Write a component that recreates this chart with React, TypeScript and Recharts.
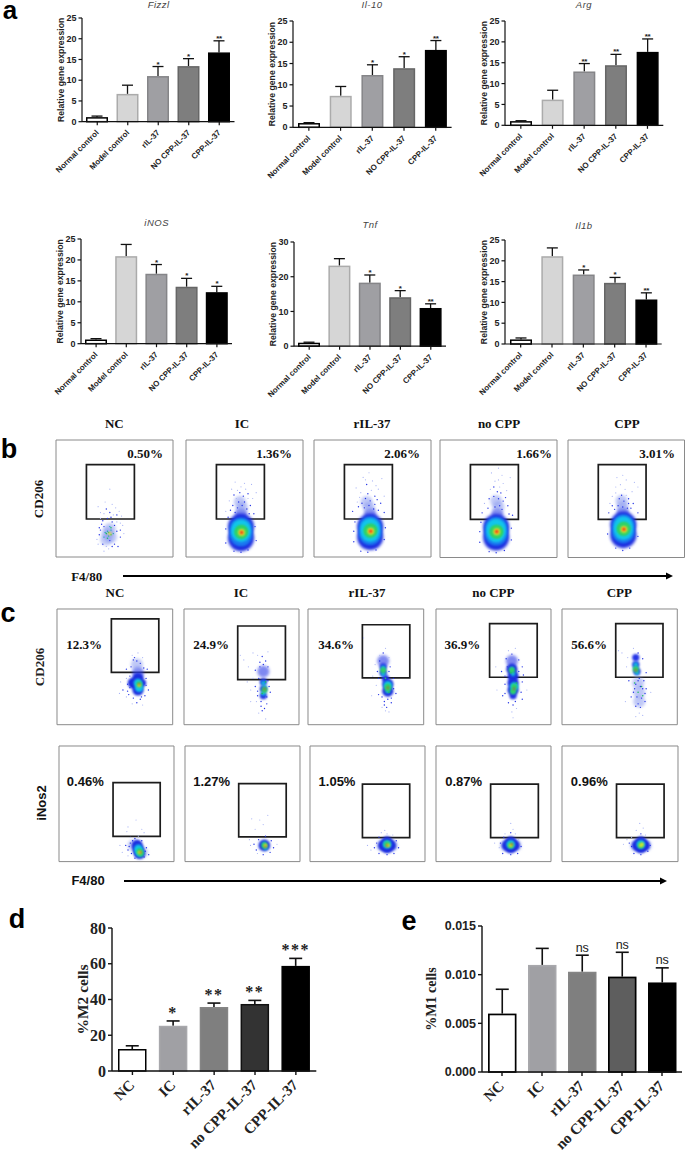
import React from 'react'
import { BarChart, Bar, XAxis, YAxis, ScatterChart, Scatter, ReferenceArea } from 'recharts'

const SANS = '"Liberation Sans", Arial, sans-serif'
const SERIF = '"Liberation Serif", "Times New Roman", serif'

// panel a
const geneCategories = ['Normal control', 'Model control', 'rIL-37', 'NO CPP-IL-37', 'CPP-IL-37']
const fizzlValues = [1.1, 6.7, 11, 13.4, 16.7]
const fizzlErrors = [0.25, 2.1, 2.3, 1.8, 2.8]
const fizzlStars = ['', '', '*', '*', '**']
const il10Values = [1, 7.4, 12.3, 13.9, 18.2]
const il10Errors = [0.1, 2.2, 2.4, 2.7, 2.2]
const il10Stars = ['', '', '*', '*', '**']
const argValues = [1, 6.15, 12.9, 14.4, 17.6]
const argErrors = [0.1, 2.25, 1.9, 2.6, 3.1]
const argStars = ['', '', '**', '**', '**']
const inosValues = [1, 20.9, 16.7, 13.6, 12.3]
const inosErrors = [0.2, 2.8, 2.2, 2, 1.4]
const inosStars = ['', '', '*', '*', '*']
const tnfValues = [1, 23.2, 18.3, 14.1, 11]
const tnfErrors = [0.15, 2, 2.2, 1.9, 1.2]
const tnfStars = ['', '', '*', '*', '**']
const il1bValues = [1.1, 21.1, 16.7, 14.7, 10.7]
const il1bErrors = [0.35, 2, 1.1, 1.3, 1.6]
const il1bStars = ['', '', '*', '*', '**']
const ticks25 = [0, 5, 10, 15, 20, 25]
const ticks30 = [0, 10, 20, 30]

// panels d, e
const cellCategories = ['NC', 'IC', 'rIL-37', 'no CPP-IL-37', 'CPP-IL-37']
const m2Values = [12.3, 25.3, 35.8, 37.5, 58.8]
const m2Errors = [1.8, 2.7, 2.2, 2, 4.2]
const m2Stars = ['', '*', '**', '**', '***']
const m2Ticks = [0, 20, 40, 60, 80]
const m1Values = [0.006, 0.011, 0.0103, 0.0098, 0.0092]
const m1Errors = [0.0025, 0.0017, 0.0017, 0.0025, 0.0015]
const m1Stars = ['', '', 'ns', 'ns', 'ns']
const m1Ticks = [0, 0.005, 0.01, 0.015]

const geneFills = ['#ffffff', '#d6d6d6', '#9f9fa3', '#7e7e7e', '#000000']
const geneStrokes = ['#000000', '#ababab', '#858588', '#666666', '#000000']
const m2Fills = ['#ffffff', '#a0a0a4', '#7f7f7f', '#333333', '#000000']
const m2Strokes = ['#000000', '#a8a8ac', '#858585', '#111111', '#000000']
const m1Fills = ['#ffffff', '#a0a0a4', '#7f7f7f', '#5e5e5e', '#000000']
const m1Strokes = ['#000000', '#a8a8ac', '#858585', '#000000', '#000000']

// flow cytometry events, [F4/80, marker, density level]
type Ev = [number, number, number]
const bNC: Ev[] = [[44, 20, 3], [46, 24, 3], [43, 15, 3], [47, 17, 3], [41, 37, 0], [48, 45, 0], [52, 30, 0], [39, 28, 1], [37, 19, 1], [52, 22, 1], [55, 17, 1], [40, 11, 1], [50, 11, 1], [45, 7, 0], [44, 33, 1], [49, 36, 0], [54, 39, 0], [42, 47, 0], [46, 58, 0], [36, 43, 0], [57, 27, 0], [38, 33, 0], [50, 27, 1], [41, 26, 1], [48, 30, 1], [46, 14, 1], [42, 21, 2], [45, 18, 2], [47, 23, 2], [44, 22, 2], [49, 20, 2], [46, 26, 2], [41, 17, 2], [43, 20, 9], [47, 19, 9], [44, 16, 9], [47, 25, 9], [45, 21, 9], [46, 20, 7], [52, 36, 1], [37, 25, 1], [55, 29, 0], [58, 20, 0], [35, 15, 0], [48, 9, 1], [43, 9, 0], [40, 31, 1], [46, 38, 1], [51, 42, 0], [38, 38, 0], [56, 35, 0], [43, 41, 1], [47, 34, 1], [55, 23, 1], [38, 23, 1], [36, 11, 0], [53, 9, 1], [41, 5, 0]]
const bIC: Ev[] = [[47, 37, 15], [48, 42, 3], [46, 47, 3], [47, 26, 10], [47, 16, 10], [47, 19, 18], [47, 24, 18], [47, 21, 11], [47, 24, 11], [47, 21, 12], [47.5, 22, 12], [47.5, 21, 13], [47.5, 21, 14], [48, 44, 1], [44, 42, 1], [52, 41, 1], [50, 47, 1], [45, 47, 1], [49, 52, 1], [43, 50, 0], [53, 50, 0], [40, 44, 1], [55, 44, 1], [39, 58, 0], [47, 60, 0], [51, 58, 0], [56, 62, 0], [42, 64, 0], [60, 55, 0], [34, 39, 0], [58, 37, 1], [36, 34, 1], [47, 4, 1], [41, 5, 1], [53, 6, 1], [34, 12, 1], [60, 14, 1], [42, 38, 1], [54, 37, 1], [38, 40, 1], [46, 55, 1], [53, 54, 1], [41, 53, 1], [44, 57, 0], [50, 63, 0], [37, 48, 0], [57, 50, 0], [59, 26, 1], [34, 24, 1]]
const bRil: Ev[] = [[48, 37, 15], [47, 42, 3], [45, 47, 3], [48, 26, 10], [48, 17, 10], [48, 20, 18], [48, 25, 18], [48, 21, 11], [48, 25, 11], [48, 22, 12], [48.5, 23, 12], [48.5, 22, 13], [48.5, 22, 14], [47, 44, 1], [43, 42, 1], [51, 41, 1], [48, 48, 1], [44, 50, 1], [52, 52, 1], [40, 55, 0], [49, 57, 0], [37, 47, 0], [57, 46, 1], [55, 58, 0], [45, 62, 1], [50, 65, 0], [42, 68, 0], [58, 67, 0], [47, 72, 0], [33, 39, 1], [60, 38, 1], [35, 30, 1], [46, 4, 1], [40, 5, 1], [53, 6, 1], [34, 13, 1], [60, 15, 1], [38, 43, 1], [55, 40, 1], [41, 46, 1], [54, 49, 1], [46, 54, 1], [39, 51, 0], [60, 52, 0], [36, 59, 0], [53, 61, 0], [44, 66, 0], [52, 45, 1], [61, 25, 1], [34, 22, 1]]
const bNoCpp: Ev[] = [[49, 37, 15], [50, 43, 3], [48, 48, 3], [48, 26, 10], [48, 17, 10], [48, 20, 18], [48, 25, 18], [48, 21, 11], [48, 25, 11], [48, 22, 12], [48.5, 22, 12], [48.5, 22, 13], [48.5, 22, 14], [51, 44, 1], [47, 43, 1], [53, 41, 1], [50, 50, 1], [46, 52, 1], [54, 48, 1], [43, 58, 0], [51, 60, 0], [38, 46, 0], [58, 44, 1], [57, 57, 0], [47, 65, 0], [53, 70, 0], [44, 72, 0], [60, 68, 0], [50, 76, 0], [36, 38, 1], [62, 36, 1], [35, 30, 1], [48, 4, 1], [42, 5, 1], [55, 6, 1], [34, 13, 1], [61, 15, 1], [41, 42, 1], [56, 51, 1], [52, 55, 1], [49, 56, 1], [46, 60, 1], [54, 63, 0], [50, 66, 0], [42, 50, 1], [59, 37, 1], [61, 25, 1], [34, 22, 1]]
const bCpp: Ev[] = [[47, 38, 15], [47, 43, 3], [46, 48, 3], [47.5, 28, 10], [47.5, 19, 10], [47.5, 22, 18], [47.5, 27, 18], [47.5, 23, 11], [47.5, 27, 11], [47.5, 24, 12], [48, 25, 12], [48, 24, 13], [48, 24, 14], [47, 43, 1], [43, 44, 1], [51, 42, 1], [48, 48, 1], [44, 50, 1], [52, 50, 1], [41, 55, 0], [49, 58, 0], [36, 46, 0], [56, 46, 1], [55, 56, 0], [45, 62, 0], [50, 66, 0], [42, 68, 0], [57, 64, 0], [35, 38, 1], [60, 38, 1], [34, 20, 1], [47, 6, 1], [41, 8, 1], [53, 8, 1], [60, 18, 1], [40, 41, 1], [54, 42, 1], [46, 53, 1], [50, 53, 0], [38, 52, 0], [47, 70, 0], [60, 60, 0], [41, 60, 0], [52, 46, 1], [38, 44, 1]]
const c1NC: Ev[] = [[70, 45, 15], [69, 52, 3], [66, 36, 4], [74, 36, 16], [70, 40, 4], [70, 35, 4], [70, 30, 4], [70, 36, 5], [71, 32, 5], [71, 35, 6], [71, 34, 7], [71, 35, 8], [69, 55, 1], [66, 56, 1], [72, 53, 1], [65, 60, 0], [70, 62, 0], [74, 58, 0], [60, 48, 1], [78, 48, 1], [61, 35, 1], [57, 30, 1], [77, 40, 1], [79, 30, 1], [66, 23, 1], [72, 22, 1], [69, 19, 1], [62, 26, 1], [76, 25, 1], [60, 40, 0], [74, 17, 0], [65, 18, 0], [55, 37, 0], [54, 27, 0], [63, 32, 1], [61, 29, 1], [63, 42, 1], [77, 34, 1], [64, 50, 1], [75, 49, 1], [67, 58, 1], [73, 24, 1], [60, 24, 0]]
const c1IC: Ev[] = [[69, 46, 15], [69, 37, 16], [69, 31, 16], [69, 25, 16], [70, 32, 17], [69, 27, 17], [69, 36, 17], [70, 30, 6], [70, 31, 8], [68, 27, 9], [71, 37, 9], [67, 20, 1], [72, 18, 1], [70, 14, 1], [68, 12, 1], [64, 25, 1], [75, 28, 1], [62, 33, 1], [63, 20, 0], [65, 10, 0], [71, 5, 0], [58, 30, 0], [55, 37, 0], [66, 54, 1], [71, 55, 1], [68, 59, 1], [73, 50, 1], [62, 47, 1], [64, 60, 0], [56, 50, 0], [52, 56, 0], [49, 60, 0], [60, 62, 0], [73, 63, 0], [58, 20, 0], [60, 40, 0], [65, 40, 1], [73, 38, 1], [74, 33, 1], [64, 29, 1], [66, 50, 1], [69, 52, 1], [67, 16, 1], [72, 24, 1]]
const c1Ril: Ev[] = [[65, 55, 15], [65, 50, 16], [65, 45, 16], [67, 40, 16], [69, 35, 4], [69, 29, 4], [65, 49, 17], [65, 44, 17], [69, 34, 5], [69, 29, 17], [65, 47, 6], [69, 33, 6], [69, 31, 6], [69, 32, 8], [67, 40, 9], [70, 28, 9], [69, 22, 1], [66, 20, 1], [72, 23, 1], [68, 15, 1], [70, 11, 0], [64, 15, 0], [61, 26, 1], [76, 27, 1], [59, 34, 0], [74, 40, 1], [60, 46, 1], [58, 52, 0], [71, 50, 1], [70, 58, 0], [65, 62, 1], [62, 60, 0], [67, 66, 0], [55, 25, 0], [48, 75, 0], [56, 42, 0], [67, 12, 0], [62, 55, 1], [70, 46, 1], [61, 40, 1], [74, 31, 1], [64, 24, 1], [72, 19, 1], [66, 17, 1]]
const c1NoCpp: Ev[] = [[66, 55, 15], [66, 48, 4], [67, 42, 4], [67, 36, 4], [67, 30, 4], [67, 25, 16], [66, 48, 17], [67, 44, 17], [68, 33, 5], [67, 29, 17], [66, 47, 6], [68, 33, 6], [67, 29, 6], [68, 31, 8], [65, 45, 9], [70, 36, 9], [60, 35, 1], [75, 37, 1], [58, 25, 1], [75, 22, 1], [67, 17, 1], [63, 19, 1], [70, 14, 0], [66, 11, 0], [67, 6, 0], [57, 46, 1], [75, 50, 1], [61, 57, 1], [72, 56, 1], [66, 61, 1], [63, 64, 0], [69, 66, 0], [53, 30, 0], [52, 50, 0], [79, 30, 0], [60, 27, 1], [74, 28, 1], [62, 50, 1], [72, 46, 1], [69, 20, 1], [60, 42, 1], [76, 43, 1]]
const c1Cpp: Ev[] = [[64, 58, 16], [64, 52, 16], [65, 46, 16], [64, 49, 17], [65, 45, 17], [64, 52, 17], [64, 48, 6], [64, 47, 8], [66, 36, 3], [67, 28, 3], [67, 20, 3], [69, 33, 9], [66, 28, 9], [63, 36, 9], [70, 25, 9], [66, 38, 1], [71, 38, 1], [73, 31, 1], [62, 28, 1], [60, 24, 1], [72, 20, 1], [68, 15, 1], [64, 16, 1], [67, 10, 0], [70, 8, 0], [64, 7, 0], [58, 38, 1], [73, 45, 1], [56, 50, 0], [57, 58, 0], [70, 57, 1], [66, 62, 1], [62, 66, 0], [52, 62, 0], [49, 64, 0], [77, 28, 0], [55, 20, 0], [64, 35, 1], [68, 33, 1], [70, 31, 1], [65, 24, 1], [69, 23, 1], [67, 40, 1], [63, 31, 1], [72, 27, 1], [66, 18, 1]]
const c2NC: Ev[] = [[65, 14, 3], [72, 8, 3], [68, 14, 4], [69, 10, 4], [70, 7, 4], [69, 11, 5], [70, 8, 5], [70, 9, 6], [71, 7, 6], [70, 8, 7], [71, 8, 8], [62, 16, 1], [66, 20, 1], [72, 18, 1], [60, 10, 1], [58, 14, 1], [55, 8, 0], [76, 12, 1], [78, 6, 1], [74, 4, 1], [66, 3, 1], [60, 5, 0], [53, 14, 0], [69, 22, 0], [62, 21, 0], [67, 36, 0], [72, 28, 0], [59, 26, 0], [74, 25, 0], [60, 30, 0], [61, 13, 1], [63, 7, 1], [75, 9, 1], [64, 18, 1]]
const c2IC: Ev[] = [[69, 14, 3], [69, 14, 4], [69, 15, 17], [70, 12, 17], [69, 14, 6], [70, 14, 7], [70, 13, 8], [60, 15, 1], [62, 10, 1], [64, 19, 1], [75, 18, 1], [77, 12, 1], [74, 8, 1], [68, 6, 1], [63, 7, 0], [57, 14, 0], [56, 19, 0], [80, 15, 0], [70, 22, 1], [58, 37, 0], [68, 32, 0], [72, 40, 0], [61, 28, 0], [65, 36, 0]]
const c2Ril: Ev[] = [[63, 14, 3], [71, 14, 3], [67, 17, 4], [67, 12, 4], [64, 14, 4], [70, 14, 4], [67, 15, 5], [67, 15, 6], [68, 14, 7], [67, 14, 8], [58, 16, 1], [56, 12, 1], [60, 7, 1], [67, 6, 1], [73, 7, 1], [77, 12, 1], [75, 18, 1], [60, 21, 1], [67, 24, 0], [72, 23, 0], [50, 14, 0], [53, 10, 0], [62, 25, 0], [65, 27, 0]]
const c2NoCpp: Ev[] = [[61, 14, 3], [69, 14, 3], [65, 17, 4], [65, 12, 4], [62, 14, 4], [68, 14, 4], [65, 15, 5], [65, 14, 6], [65, 14, 7], [66, 15, 8], [56, 16, 1], [55, 12, 0], [58, 7, 1], [65, 6, 1], [71, 7, 1], [74, 13, 1], [72, 19, 0], [59, 21, 1], [65, 25, 1], [60, 24, 0], [69, 24, 0], [51, 16, 0], [65, 33, 0], [67, 28, 0]]
const c2Cpp: Ev[] = [[64, 14, 3], [72, 14, 3], [68, 17, 4], [68, 12, 4], [65, 14, 4], [71, 14, 4], [68, 15, 5], [68, 14, 6], [69, 15, 7], [68, 14, 7], [60, 13, 1], [58, 16, 1], [62, 7, 1], [68, 6, 1], [74, 9, 1], [76, 14, 1], [60, 21, 0], [68, 24, 1], [72, 23, 0], [53, 15, 0], [56, 19, 0], [67, 33, 0], [70, 29, 0], [64, 27, 0]]

const flowXTicks = [2, 5, 7, 9, 10, 11, 20, 26, 30, 33, 36, 38, 40, 42, 53, 58, 62, 64, 66, 68, 70, 71, 80, 86, 89, 91, 93, 94, 96]
const flowYTicks = [2, 5, 8, 10, 13, 16, 27, 30, 32, 34, 36, 37, 39, 50, 53, 56, 58, 60, 61, 63, 73, 76, 80, 82, 84, 86, 88, 95]

// looks for each density level of the events above
const dotRadius = [0.6, 0.7, 0.7, 6, 5.6, 4.3, 3, 1.7, 1, 0.8, 13, 9.5, 6.5, 3.4, 1.8, 6, 3.6, 2.4, 11.5]
const dotFill = ['#a9b4f5', '#2434e6', '#16a6b8', '#8c9cf0', '#1c2ee0', '#12c6ea', '#2fd267', '#e8e626', '#f0281a', '#20c060',
  '#1c2ee0', '#12c6ea', '#2fd267', '#e8e626', '#f0281a', '#2a3ae8', '#2434e6', '#14b8e0', '#1a78f0']
const dotOpacity: Record<number, number> = { 3: 0.55, 15: 0.6 }
const tinyLevels = [0, 1, 2, 9]

function FlowDot({ cx, cy, payload }: any) {
  const d = payload.d
  const tiny = tinyLevels.includes(d)
  const blur = tiny ? 0 : d === 3 || d === 15 || d === 10 ? 1.4 : 1.1
  return (
    <circle
      cx={cx}
      cy={cy}
      r={dotRadius[d]}
      fill={dotFill[d]}
      opacity={dotOpacity[d] ?? 1}
      style={blur ? { filter: `blur(${blur}px)` } : undefined}
    />
  )
}

const noTick = () => <g />

function FlowPanel({ left, top, w, h, events, gateX, gateY }: any) {
  const pts = events.map((e: Ev) => ({ x: e[0], y: e[1], d: e[2] }))
  const m = 5
  return (
    <div style={{ position: 'absolute', left: left - m, top: top - m }}>
      <ScatterChart width={w + 2 * m} height={h + 2 * m} margin={{ top: m, right: m, bottom: m, left: m }}>
        <XAxis type="number" dataKey="x" domain={[0, 100]} ticks={flowXTicks} interval={0} height={0}
          tick={noTick} tickSize={2} axisLine={false} tickLine={{ stroke: '#555', strokeWidth: 0.7 }} />
        <YAxis type="number" dataKey="y" domain={[0, 100]} ticks={flowYTicks} interval={0} width={0}
          tick={noTick} tickSize={2} axisLine={false} tickLine={{ stroke: '#555', strokeWidth: 0.7 }} />
        <Scatter data={pts} shape={FlowDot} isAnimationActive={false} />
        <ReferenceArea x1={0} x2={100} y1={0} y2={100} fill="none" stroke="#8a8a8a" strokeWidth={1} />
        <ReferenceArea x1={gateX[0]} x2={gateX[1]} y1={gateY[0]} y2={gateY[1]} fill="none" stroke="#1c1c1c" strokeWidth={1.7} />
      </ScatterChart>
    </div>
  )
}

function makeBarShape(fills: string[], strokes: string[], o: any) {
  return function BarShape(props: any) {
    const { x, y, width, height, index, payload } = props
    const cx = x + width / 2
    const errPx = (payload.err * height) / payload.value
    const top = y - errPx
    const c = o.barStroke
    return (
      <g>
        <line x1={cx} x2={cx} y1={y} y2={top} stroke="#111" strokeWidth={o.errW} />
        <line x1={cx - o.cap} x2={cx + o.cap} y1={top} y2={top} stroke="#111" strokeWidth={o.errW} />
        <rect x={x + c / 2} y={y + c / 2} width={width - c} height={height - c / 2} fill={fills[index]} stroke={strokes[index]} strokeWidth={c} />
        {payload.star ? (
          <text x={cx} y={top + (payload.star === 'ns' ? o.nsDy : o.starDy)} textAnchor="middle"
            fontFamily={payload.star === 'ns' ? SANS : o.starFont} fontSize={payload.star === 'ns' ? o.nsSize : o.starSize}
            fontWeight={payload.star === 'ns' ? 400 : 700} letterSpacing={o.starGap} fill="#222">{payload.star}</text>
        ) : null}
      </g>
    )
  }
}

function RotTick({ x, y, payload, font, size, weight, dx, dy }: any) {
  return (
    <text transform={`translate(${x + dx},${y + dy}) rotate(-45)`} textAnchor="end" fontFamily={font}
      fontSize={size} fontWeight={weight} fill="#222">{payload.value}</text>
  )
}

function BarPanel(p: any) {
  const rows = p.categories.map((c: string, i: number) => ({ name: c, value: p.values[i], err: p.errors[i], star: p.stars[i] }))
  const top = 16
  const Shape = React.useMemo(() => makeBarShape(p.fills, p.strokes, p.opt), [])
  return (
    <div style={{ position: 'absolute', left: p.axisX - p.yW, top: p.yTop - top }}>
      <BarChart width={p.yW + p.plotW + 2} height={top + p.plotH + p.xH} data={rows} barSize={p.barSize}
        margin={{ top, right: 2, bottom: 0, left: 0 }}>
        <XAxis dataKey="name" interval={0} height={p.xH} tickSize={p.tickSize} stroke="#111" axisLine={{ strokeWidth: p.axisW }}
          tickLine={{ strokeWidth: p.axisW }}
          tick={<RotTick font={p.xFont} size={p.xSize} weight={700} dx={p.xDx} dy={p.xDy} />} />
        <YAxis width={p.yW} domain={p.domain} ticks={p.ticks} interval={0} tickSize={p.tickSize} stroke="#111"
          axisLine={{ strokeWidth: p.axisW }} tickLine={{ strokeWidth: p.axisW }} tickFormatter={p.fmt}
          tick={{ fontFamily: p.yFont, fontSize: p.ySize, fontWeight: 700, fill: '#222' }}
          label={{ value: p.yLabel, angle: -90, position: 'center', dx: p.labelDx, fontFamily: p.labelFont, fontSize: p.labelSize, fontWeight: 700, fill: '#222' }} />
        <Bar dataKey="value" shape={Shape} isAnimationActive={false} />
      </BarChart>
    </div>
  )
}

const geneOpt = { barStroke: 1.5, errW: 1.3, cap: 5.5, starDy: 0, nsDy: -2, starSize: 8, nsSize: 9, starFont: SANS, starGap: -0.3 }
const geneBase = {
  categories: geneCategories, fills: geneFills, strokes: geneStrokes, opt: geneOpt, yW: 30, xH: 62, barSize: 22, tickSize: 3.5,
  axisW: 1.2, xFont: SANS, xSize: 8, yFont: SANS, ySize: 9, yLabel: 'Relative gene expression', labelDx: -6.5, labelFont: SANS,
  labelSize: 8.7, xDx: 2, xDy: 6,
}

function T({ x, y, s, size = 13, font = SERIF, weight = 700, italic = false, rot = 0, color = '#111', spacing = 0, lh = 1 }: any) {
  return (
    <div style={{
      position: 'absolute', left: x, top: y, transform: `translate(-50%,-50%) rotate(${rot}deg)`, fontSize: size, fontFamily: font,
      fontWeight: weight, fontStyle: italic ? 'italic' : 'normal', color, whiteSpace: 'nowrap', lineHeight: lh, letterSpacing: spacing,
    }}>{s}</div>
  )
}

function Arrow({ x1, x2, y }: any) {
  return (
    <svg style={{ position: 'absolute', left: 0, top: y - 6 }} width={685} height={12}>
      <line x1={x1} x2={x2 - 5} y1={6} y2={6} stroke="#000" strokeWidth={1.9} />
      <polygon points={`${x2},6 ${x2 - 7},2.5 ${x2 - 7},9.5`} fill="#000" />
    </svg>
  )
}

export default function App() {
  const bGateX = [26, 67]
  const bGateY = [32.5, 79]
  return (
    <div style={{ position: 'absolute', left: 0, top: 0, width: 685, height: 1154, background: '#fff', overflow: 'hidden' }}>
      <T x={10} y={9.5} s="a" size={26} font={SANS} color="#000" lh={0.7} />
      <T x={9} y={449} s="b" size={27} font={SANS} color="#000" />
      <T x={8} y={613} s="c" size={27} font={SANS} color="#000" />
      <T x={17} y={919} s="d" size={27} font={SANS} color="#000" />
      <T x={409} y={921} s="e" size={27} font={SANS} color="#000" />

      <T x={158.7} y={5} s="Fizzl" size={9.5} font={SANS} weight={400} italic color="#444" spacing={0.5} />
      <T x={372} y={5} s="Il-10" size={9.5} font={SANS} weight={400} italic color="#444" spacing={0.5} />
      <T x={584} y={5} s="Arg" size={9.5} font={SANS} weight={400} italic color="#444" spacing={0.5} />
      <T x={156.7} y={223} s="iNOS" size={9.5} font={SANS} weight={400} italic color="#444" spacing={0.5} />
      <T x={370} y={225} s="Tnf" size={9.5} font={SANS} weight={400} italic color="#444" spacing={0.5} />
      <T x={584} y={226} s="Il1b" size={9.5} font={SANS} weight={400} italic color="#444" spacing={0.5} />

      <BarPanel {...geneBase} axisX={81.5} yTop={18} plotW={152.5} plotH={103.7} values={fizzlValues} errors={fizzlErrors} stars={fizzlStars} domain={[0, 25]} ticks={ticks25} />
      <BarPanel {...geneBase} axisX={292.7} yTop={20.7} plotW={158.6} plotH={106.3} values={il10Values} errors={il10Errors} stars={il10Stars} domain={[0, 25]} ticks={ticks25} />
      <BarPanel {...geneBase} axisX={505} yTop={20.7} plotW={158.3} plotH={104.3} values={argValues} errors={argErrors} stars={argStars} domain={[0, 25]} ticks={ticks25} />
      <BarPanel {...geneBase} axisX={81} yTop={239.3} plotW={151} plotH={104.7} values={inosValues} errors={inosErrors} stars={inosStars} domain={[0, 25]} ticks={ticks25} />
      <BarPanel {...geneBase} axisX={293.5} yTop={242.3} plotW={152} plotH={104.2} values={tnfValues} errors={tnfErrors} stars={tnfStars} domain={[0, 30]} ticks={ticks30} />
      <BarPanel {...geneBase} axisX={505} yTop={240} plotW={156.7} plotH={104} values={il1bValues} errors={il1bErrors} stars={il1bStars} domain={[0, 25]} ticks={ticks25} />

      <T x={114.3} y={423} s="NC" />
      <T x={242} y={423} s="IC" />
      <T x={372} y={423} s="rIL-37" />
      <T x={499} y={423} s="no CPP" />
      <T x={627} y={423} s="CPP" />
      <T x={38} y={499} s="CD206" rot={-90} />
      <FlowPanel left={56} top={440} w={117} h={117} events={bNC} gateX={bGateX} gateY={bGateY} />
      <FlowPanel left={185.5} top={440} w={117} h={117} events={bIC} gateX={bGateX} gateY={bGateY} />
      <FlowPanel left={314} top={440} w={117} h={117} events={bRil} gateX={bGateX} gateY={bGateY} />
      <FlowPanel left={440.3} top={439.5} w={117} h={117.5} events={bNoCpp} gateX={bGateX} gateY={bGateY} />
      <FlowPanel left={567.7} top={439.5} w={116.5} h={117.5} events={bCpp} gateX={bGateX} gateY={bGateY} />
      <T x={145} y={453} s="0.50%" />
      <T x={274} y={453} s="1.36%" />
      <T x={402} y={453} s="2.06%" />
      <T x={534} y={453} s="1.66%" />
      <T x={657} y={453} s="3.01%" />
      <T x={86.7} y={575.7} s="F4/80" />
      <Arrow x1={123} x2={673} y={575.7} />

      <T x={115} y={591.7} s="NC" />
      <T x={241} y={591.7} s="IC" />
      <T x={367} y={591.7} s="rIL-37" />
      <T x={493.3} y={591.7} s="no CPP" />
      <T x={619.3} y={591.7} s="CPP" />
      <T x={39.3} y={667} s="CD206" rot={-90} color="#222" />
      <T x={41} y={803} s="iNos2" rot={-90} font={SANS} />
      <FlowPanel left={57.3} top={609} w={115.7} h={115.7} events={c1NC} gateX={[47, 88]} gateY={[45.3, 91.4]} />
      <FlowPanel left={184.3} top={609} w={115} h={115.7} events={c1IC} gateX={[46.7, 88.2]} gateY={[38.9, 85.3]} />
      <FlowPanel left={308.3} top={609} w={115.7} h={115.7} events={c1Ril} gateX={[47, 88]} gateY={[40.4, 86.4]} />
      <FlowPanel left={435.7} top={609} w={115} h={115.7} events={c1NoCpp} gateX={[46.6, 88]} gateY={[41, 87.3]} />
      <FlowPanel left={562} top={609} w={115.3} h={115.7} events={c1Cpp} gateX={[46.6, 87.6]} gateY={[41, 87.3]} />
      <T x={84} y={644} s="12.3%" />
      <T x={211} y={644} s="24.9%" />
      <T x={336} y={644} s="34.6%" />
      <T x={462.3} y={644} s="36.9%" />
      <T x={589} y={644} s="56.6%" />
      <FlowPanel left={59} top={745.7} w={115} h={115.6} events={c2NC} gateX={[47, 88]} gateY={[21.9, 68.3]} />
      <FlowPanel left={185.3} top={745.7} w={115} h={115.6} events={c2IC} gateX={[46.7, 88]} gateY={[21.3, 67.5]} />
      <FlowPanel left={310.3} top={745.7} w={115} h={115.6} events={c2Ril} gateX={[45.6, 86.7]} gateY={[20.8, 67.1]} />
      <FlowPanel left={435.7} top={746.2} w={115} h={115.6} events={c2NoCpp} gateX={[47.5, 89]} gateY={[20.8, 67.1]} />
      <FlowPanel left={562} top={746.2} w={116} h={115.6} events={c2Cpp} gateX={[47, 88]} gateY={[20.8, 67.1]} />
      <T x={85.3} y={781} s="0.46%" font={SANS} />
      <T x={211.7} y={781} s="1.27%" font={SANS} />
      <T x={337} y={781} s="1.05%" font={SANS} />
      <T x={463.7} y={781} s="0.87%" font={SANS} />
      <T x={589.3} y={781} s="0.96%" font={SANS} />
      <T x={88} y={880} s="F4/80" font={SANS} />
      <Arrow x1={124} x2={667} y={880.7} />

      <BarPanel categories={cellCategories} values={m2Values} errors={m2Errors} stars={m2Stars} fills={m2Fills} strokes={m2Strokes}
        opt={{ barStroke: 1.5, errW: 1.6, cap: 6.5, starDy: -3, nsDy: -2, starSize: 16, nsSize: 11, starFont: SERIF, starGap: 1.5 }}
        axisX={111.7} yTop={928} plotW={204.3} plotH={143} yW={50} xH={85} barSize={28.5} tickSize={4} axisW={1.4}
        domain={[0, 80]} ticks={m2Ticks} xFont={SERIF} xSize={15} xDx={3} xDy={9} yFont={SERIF} ySize={16}
        yLabel="%M2 cells" labelDx={-5} labelFont={SERIF} labelSize={15.5} />
      <BarPanel categories={cellCategories} values={m1Values} errors={m1Errors} stars={m1Stars} fills={m1Fills} strokes={m1Strokes}
        opt={{ barStroke: 1.7, errW: 1.6, cap: 6.5, starDy: 2, nsDy: -3.5, starSize: 16, nsSize: 12.5, starFont: SERIF, starGap: 0 }}
        axisX={482.3} yTop={925.7} plotW={200} plotH={146} yW={70} xH={85} barSize={28.5} tickSize={4} axisW={1.4}
        domain={[0, 0.015]} ticks={m1Ticks} fmt={(v: number) => v.toFixed(3)} xFont={SERIF} xSize={15} xDx={3} xDy={9} yFont={SANS} ySize={12.5}
        yLabel="%M1 cells" labelDx={-16} labelFont={SERIF} labelSize={14} />
    </div>
  )
}
